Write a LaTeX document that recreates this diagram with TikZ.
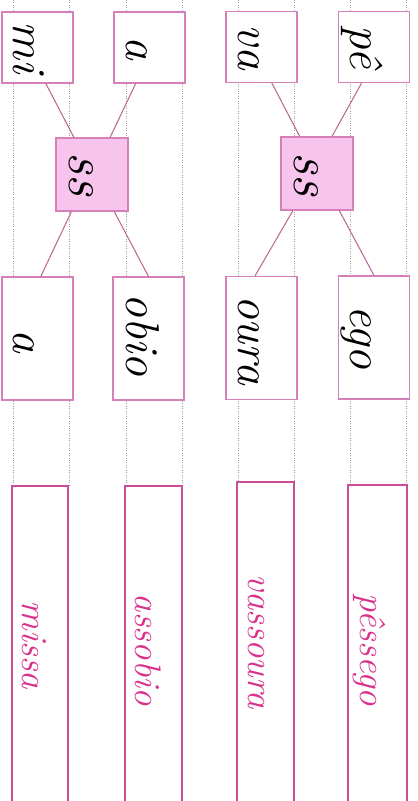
\documentclass[tikz,border=0pt]{standalone}
\usepackage{fontspec}
\usepackage{tikz}
\usetikzlibrary{calc,positioning}
\definecolor{framec}{HTML}{D580B8}
\definecolor{linkc}{HTML}{B86A98}
\definecolor{ssbg}{HTML}{F6C4EC}
\definecolor{ansc}{HTML}{CC4C9A}
\definecolor{anstxt}{HTML}{D9308C}
\definecolor{guidec}{HTML}{A0A0A0}
\tikzset{
  box/.style={draw=framec,line width=0.6pt,fill=white,minimum width=1.42cm,minimum height=1.42cm,inner sep=0pt},
  tallbox/.style={box,minimum height=2.46cm},
  ssbox/.style={box,fill=ssbg,minimum width=1.44cm,minimum height=1.46cm},
  ln/.style={linkc,line width=0.6pt},
  syl/.style={rotate=-90,anchor=base,inner sep=0pt,font=\fontsize{27}{30}\selectfont\itshape},
  ssword/.style={syl,font=\fontsize{31}{34}\selectfont\itshape},
  ans/.style={syl,text=anstxt,font=\fontsize{21}{24}\selectfont\itshape},
  guide/.style={guidec,densely dotted,line width=0.4pt},
  ansbox/.style={draw=ansc,line width=0.6pt}
}
\begin{document}
\begin{tikzpicture}[x=0.02cm,y=-0.02cm]
\useasboundingbox (0,0) rectangle (418,801);
% guide lines
\foreach \gx/\gy in {13/486,69/486,126/486,182/486,238/482,294/482,350/485,406/485}
  \draw[guide] (\gx,0) -- (\gx,\gy);
% answer strips
\foreach \lx/\rx/\ty in {12/68/486,125/182/486,237/294/482,348/407/485}
  \draw[ansbox] (\lx,801) |- (\rx,\ty) -- (\rx,801);
% syllable boxes
\node[box] (mi) at (37.5,47.5) {};
\node[box] (a1) at (149.5,47.5) {};
\node[box] (va) at (261.5,47) {};
\node[box] (pe) at (374,47) {};
\node[ssbox] (ss1) at (92,174.5) {};
\node[ssbox] (ss2) at (317,173.5) {};
\node[tallbox] (a2) at (37.5,338.5) {};
\node[tallbox] (obio) at (148.5,338.5) {};
\node[tallbox] (oura) at (261.5,338) {};
\node[tallbox] (ego) at (374,337.5) {};
% links
\draw[ln] (mi.-77) -- (ss1.116);
\draw[ln] (a1.-111) -- (ss1.64);
\draw[ln] (ss1.-119) -- (a2.87);
\draw[ln] (ss1.-59) -- (obio.north);
\draw[ln] (va.-74) -- (ss2.115);
\draw[ln] (pe.-109) -- (ss2.68);
\draw[ln] (ss2.-123) -- (oura.96);
\draw[ln] (ss2.-59) -- (ego.north);
% words
\node[syl] (tmi) at (13,47.5) {mi};
\node[syl] (ta1) at (126,48) {a};
\node[syl] (tva) at (238,47.5) {va};
\node[syl] (tpe) at (350,47) {pê};
\node[ssword] (tss1) at (69,174.5) {ss};
\node[ssword] (tss2) at (294,174) {ss};
\node[syl] (ta2) at (13,341) {a};
\node[syl] (tobio) at (126,335) {obio};
\node[syl] (toura) at (238,340) {oura};
\node[syl] (tego) at (350,337.5) {ego};
\node[ans] (missa) at (22,645) {missa};
\node[ans] (assobio) at (135,650) {assobio};
\node[ans] (vassoura) at (248,642) {vassoura};
\node[ans] (pessego) at (360,650) {pêssego};
\end{tikzpicture}
\end{document}
